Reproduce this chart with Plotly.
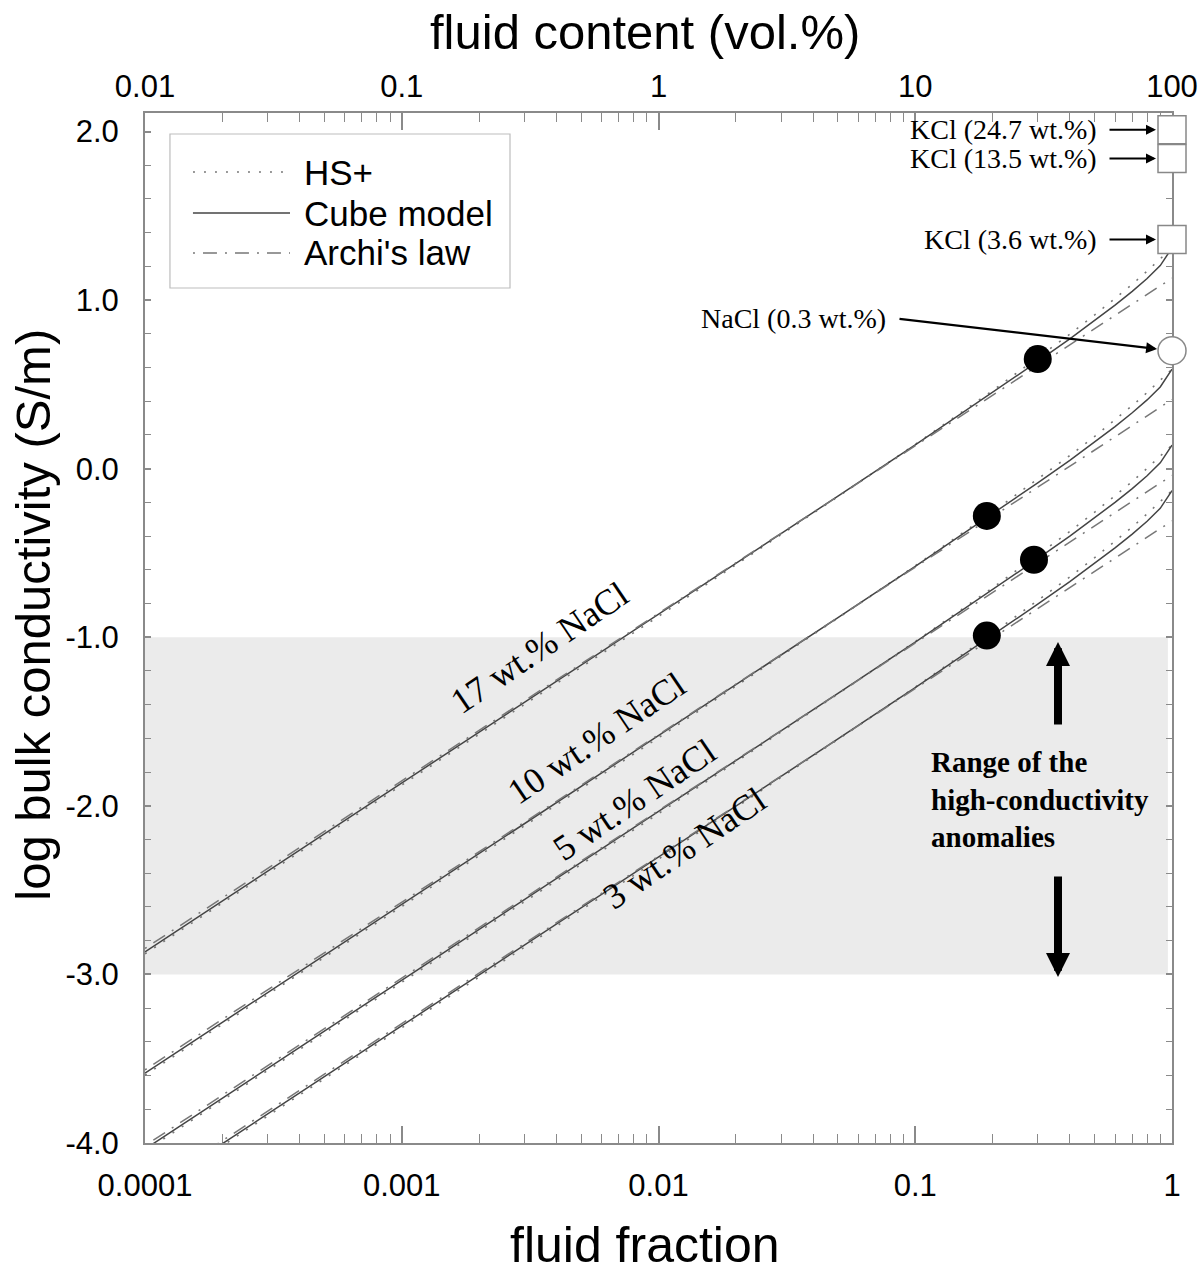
import plotly.graph_objects as go

# ---------------- data ----------------
fraction = [0.0001, 0.001, 0.01, 0.05, 0.1, 0.2, 0.3, 0.4, 0.5, 0.6, 0.7, 0.8, 0.9, 1.0]

# 17 wt.% NaCl
cube_17 = [-2.866, -1.866, -0.865, -0.163, 0.141, 0.451, 0.636, 0.770, 0.878, 0.970, 1.052, 1.128, 1.205, 1.31]
hs_17 = [-2.878, -1.878, -0.876, -0.166, 0.144, 0.463, 0.656, 0.798, 0.912, 1.009, 1.094, 1.172, 1.243, 1.31]
archie_17 = [-2.846, -1.852, -0.858, -0.163, 0.136, 0.435, 0.610, 0.734, 0.831, 0.909, 0.976, 1.034, 1.084, 1.13]
# 10 wt.% NaCl
cube_10 = [-3.586, -2.586, -1.585, -0.883, -0.579, -0.269, -0.084, 0.050, 0.158, 0.250, 0.332, 0.408, 0.485, 0.59]
hs_10 = [-3.598, -2.598, -1.596, -0.886, -0.576, -0.257, -0.064, 0.078, 0.192, 0.289, 0.374, 0.452, 0.523, 0.59]
archie_10 = [-3.566, -2.572, -1.578, -0.883, -0.584, -0.285, -0.110, 0.014, 0.111, 0.189, 0.256, 0.314, 0.364, 0.41]
# 5 wt.% NaCl
cube_5 = [-4.036, -3.036, -2.035, -1.333, -1.029, -0.719, -0.534, -0.400, -0.292, -0.200, -0.118, -0.042, 0.035, 0.14]
hs_5 = [-4.048, -3.048, -2.046, -1.336, -1.026, -0.707, -0.514, -0.372, -0.258, -0.161, -0.076, 0.002, 0.073, 0.14]
archie_5 = [-4.016, -3.022, -2.028, -1.333, -1.034, -0.735, -0.560, -0.436, -0.339, -0.261, -0.194, -0.136, -0.086, -0.04]
# 3 wt.% NaCl
cube_3 = [-4.306, -3.306, -2.305, -1.603, -1.299, -0.989, -0.804, -0.670, -0.562, -0.470, -0.388, -0.312, -0.235, -0.13]
hs_3 = [-4.318, -3.318, -2.316, -1.606, -1.296, -0.977, -0.784, -0.642, -0.528, -0.431, -0.346, -0.268, -0.197, -0.13]
archie_3 = [-4.286, -3.292, -2.298, -1.603, -1.304, -1.005, -0.830, -0.706, -0.609, -0.531, -0.464, -0.406, -0.356, -0.31]

curve_labels = ["17 wt.% NaCl", "10 wt.% NaCl", "5 wt.% NaCl", "3 wt.% NaCl"]
label_x_log = [-2.465, -2.240, -2.095, -1.897]
label_y = [-1.063, -1.597, -1.965, -2.249]

# measured samples (filled dots)
sample_x = [0.3, 0.19, 0.29, 0.19]
sample_y = [0.65, -0.28, -0.54, -0.99]

# pure fluids at fraction = 1
kcl_x = [1.0, 1.0, 1.0]
kcl_y = [2.01, 1.84, 1.36]
kcl_labels = ["KCl (24.7 wt.%)", "KCl (13.5 wt.%)", "KCl (3.6 wt.%)"]
nacl_x = [1.0]
nacl_y = [0.70]
nacl_label = "NaCl (0.3 wt.%)"

bottom_tickvals = [0.0001, 0.001, 0.01, 0.1, 1]
bottom_ticktext = ["0.0001", "0.001", "0.01", "0.1", "1"]
top_tickvals = [0.01, 0.1, 1, 10, 100]
top_ticktext = ["0.01", "0.1", "1", "10", "100"]
y_tickvals = [-4, -3, -2, -1, 0, 1, 2]
y_ticktext = ["-4.0", "-3.0", "-2.0", "-1.0", "0.0", "1.0", "2.0"]

legend_names = ["HS+", "Cube model", "Archi's law"]

# ---------------- styles ----------------
SANS = "Liberation Sans, Arial, sans-serif"
SERIF = "Liberation Serif, Times New Roman, serif"
AXC = "#8a8a8a"
DOT = "2px,9px"
DASHDOT = "2px,8px,14px,8px"
styles = {
    "HS+": dict(color="#777777", width=1.6, dash=DOT),
    "Cube model": dict(color="#444444", width=1.5, dash="solid"),
    "Archi's law": dict(color="#777777", width=1.5, dash=DASHDOT),
}

fig = go.Figure()

series = [
    (hs_17, cube_17, archie_17),
    (hs_10, cube_10, archie_10),
    (hs_5, cube_5, archie_5),
    (hs_3, cube_3, archie_3),
]
for lab, (hs, cu, ar) in zip(curve_labels, series):
    for name, ys in zip(legend_names, (hs, cu, ar)):
        fig.add_trace(go.Scatter(x=fraction, y=ys, mode="lines", line=styles[name],
                                 name=f"{name} {lab}", showlegend=False, hoverinfo="skip"))

fig.add_trace(go.Scatter(x=sample_x, y=sample_y, mode="markers", showlegend=False,
                         marker=dict(size=28, color="black", line=dict(width=0))))
fig.add_trace(go.Scatter(x=nacl_x, y=nacl_y, mode="markers", showlegend=False, cliponaxis=False,
                         marker=dict(size=28, color="white", symbol="circle",
                                     line=dict(width=1.5, color="#888888"))))
fig.add_trace(go.Scatter(x=kcl_x, y=kcl_y, mode="markers", showlegend=False, cliponaxis=False,
                         marker=dict(size=28, color="white", symbol="square",
                                     line=dict(width=1.5, color="#888888"))))
# empty trace that registers the top (vol.%) axis
fig.add_trace(go.Scatter(x=top_tickvals, y=[None] * len(top_tickvals), xaxis="x2", yaxis="y",
                         mode="markers", showlegend=False, hoverinfo="skip"))

# ---------------- shaded anomaly range ----------------
fig.add_shape(type="rect", xref="paper", yref="y", x0=0, x1=0.996, y0=-3, y1=-1,
              fillcolor="#ebebeb", line=dict(width=0), layer="below")

# ---------------- manual legend ----------------
fig.add_shape(type="rect", xref="paper", yref="paper", x0=0.0243, x1=0.3554, y0=0.8301, y1=0.9796,
              line=dict(color="#bdbdbd", width=1.2), fillcolor="rgba(0,0,0,0)")
leg_y = [0.9427, 0.9029, 0.8641]
for name, ly in zip(legend_names, leg_y):
    st = styles[name]
    fig.add_shape(type="line", xref="paper", yref="paper", x0=0.0467, x1=0.1412, y0=ly, y1=ly,
                  line=dict(color=st["color"], width=st["width"], dash=st["dash"]))
    fig.add_annotation(xref="paper", yref="paper", x=0.1529, y=ly, text=name, showarrow=False,
                       xanchor="left", yanchor="middle", font=dict(family=SANS, size=35, color="black"))

# ---------------- curve labels ----------------
for lab, lx, ly in zip(curve_labels, label_x_log, label_y):
    fig.add_annotation(x=lx, y=ly, text=lab, showarrow=False, textangle=-34,
                       font=dict(family=SERIF, size=36, color="black"))

# ---------------- pure-fluid labels with arrows ----------------
for lab, ky in zip(kcl_labels, kcl_y):
    fig.add_annotation(x=0, y=ky, text=lab, showarrow=False, xanchor="right", xshift=-73,
                       yanchor="middle", font=dict(family=SERIF, size=28, color="black"))
    fig.add_annotation(x=0, y=ky, text="", showarrow=True, ax=-64, ay=0, standoff=16,
                       arrowhead=2, arrowsize=1, arrowwidth=2, arrowcolor="black")

fig.add_annotation(x=0, y=nacl_y[0], text=nacl_label, showarrow=False, xanchor="right",
                   xshift=-284, yshift=32, yanchor="middle",
                   font=dict(family=SERIF, size=28, color="black"))
fig.add_annotation(x=0, y=nacl_y[0], text="", showarrow=True, ax=-274, ay=-32, standoff=15,
                   arrowhead=2, arrowsize=1, arrowwidth=2.2, arrowcolor="black")

# ---------------- anomaly range text and arrows ----------------
fig.add_annotation(x=-0.444, y=-1.028, text="", showarrow=True, ax=0, ay=84,
                   arrowhead=2, arrowsize=0.6, arrowwidth=8, arrowcolor="black")
fig.add_annotation(x=-0.444, y=-3.015, text="", showarrow=True, ax=0, ay=-102,
                   arrowhead=2, arrowsize=0.6, arrowwidth=8, arrowcolor="black")
fig.add_annotation(xref="paper", x=(929 - 145) / 1027, y=-1.965, xanchor="left", yanchor="middle",
                   text="<b>Range of the<br>high-conductivity<br>anomalies</b>", showarrow=False,
                   align="left", font=dict(family=SERIF, size=29, color="black"))

# ---------------- axis titles ----------------
fig.add_annotation(xref="paper", yref="paper", x=0.487, y=-0.0990, text="fluid fraction",
                   showarrow=False, xanchor="center", yanchor="middle",
                   font=dict(family=SANS, size=50, color="black"))
fig.add_annotation(xref="paper", yref="paper", x=0.487, y=1.0786, text="fluid content (vol.%)",
                   showarrow=False, xanchor="center", yanchor="middle",
                   font=dict(family=SANS, size=49, color="black"))
fig.add_annotation(xref="paper", yref="paper", x=-0.1090, y=0.513, text="log bulk conductivity (S/m)",
                   showarrow=False, xanchor="center", yanchor="middle", textangle=-90,
                   font=dict(family=SANS, size=49, color="black"))

# ---------------- axes ----------------
def minor_log(lo, hi):
    vals = []
    e = lo
    while e < hi:
        for k in range(2, 10):
            vals.append(k * 10 ** e)
        e += 1
    return vals

tickfont = dict(family=SANS, size=31, color="black")
fig.update_layout(
    width=1200, height=1275,
    margin=dict(l=145, r=28, t=113, b=132, autoexpand=False),
    paper_bgcolor="white", plot_bgcolor="white",
    xaxis=dict(
        type="log", range=[-4, 0], tickmode="array", tickvals=bottom_tickvals, ticktext=bottom_ticktext,
        ticks="inside", ticklen=17, tickwidth=1.5, tickcolor=AXC, layer="below traces",
        showline=True, linecolor=AXC, linewidth=2, mirror=False, automargin=False,
        showgrid=False, zeroline=False, tickfont=tickfont, ticklabelstandoff=14,
        minor=dict(tickmode="array", tickvals=minor_log(-4, 0), ticks="inside", ticklen=9,
                   tickwidth=1.2, tickcolor=AXC, showgrid=False),
    ),
    xaxis2=dict(
        type="log", range=[-2, 2], overlaying="x", side="top", anchor="y", automargin=False,
        tickmode="array", tickvals=top_tickvals, ticktext=top_ticktext, layer="below traces",
        ticks="inside", ticklen=17, tickwidth=1.5, tickcolor=AXC,
        showline=True, linecolor=AXC, linewidth=2,
        showgrid=False, zeroline=False, tickfont=tickfont, ticklabelstandoff=2,
        minor=dict(tickmode="array", tickvals=minor_log(-2, 2), ticks="inside", ticklen=9,
                   tickwidth=1.2, tickcolor=AXC, showgrid=False),
    ),
    yaxis=dict(
        range=[-4, 2.11], tickmode="array", tickvals=y_tickvals, ticktext=y_ticktext,
        ticks="inside", ticklen=6, tickwidth=1.5, tickcolor=AXC, automargin=False,
        showline=True, linecolor=AXC, linewidth=2, mirror="ticks", layer="below traces",
        showgrid=False, zeroline=False, tickfont=tickfont, ticklabelstandoff=18,
        minor=dict(tickmode="linear", tick0=0, dtick=0.2, ticks="inside", ticklen=6,
                   tickwidth=1.2, tickcolor=AXC, showgrid=False),
    ),
)

# remove the default 8px page margin so the 1200x1275 figure fills the window exactly
fig.write_html("out.html", config={"displayModeBar": False},
               post_script="document.body.style.margin='0';")
